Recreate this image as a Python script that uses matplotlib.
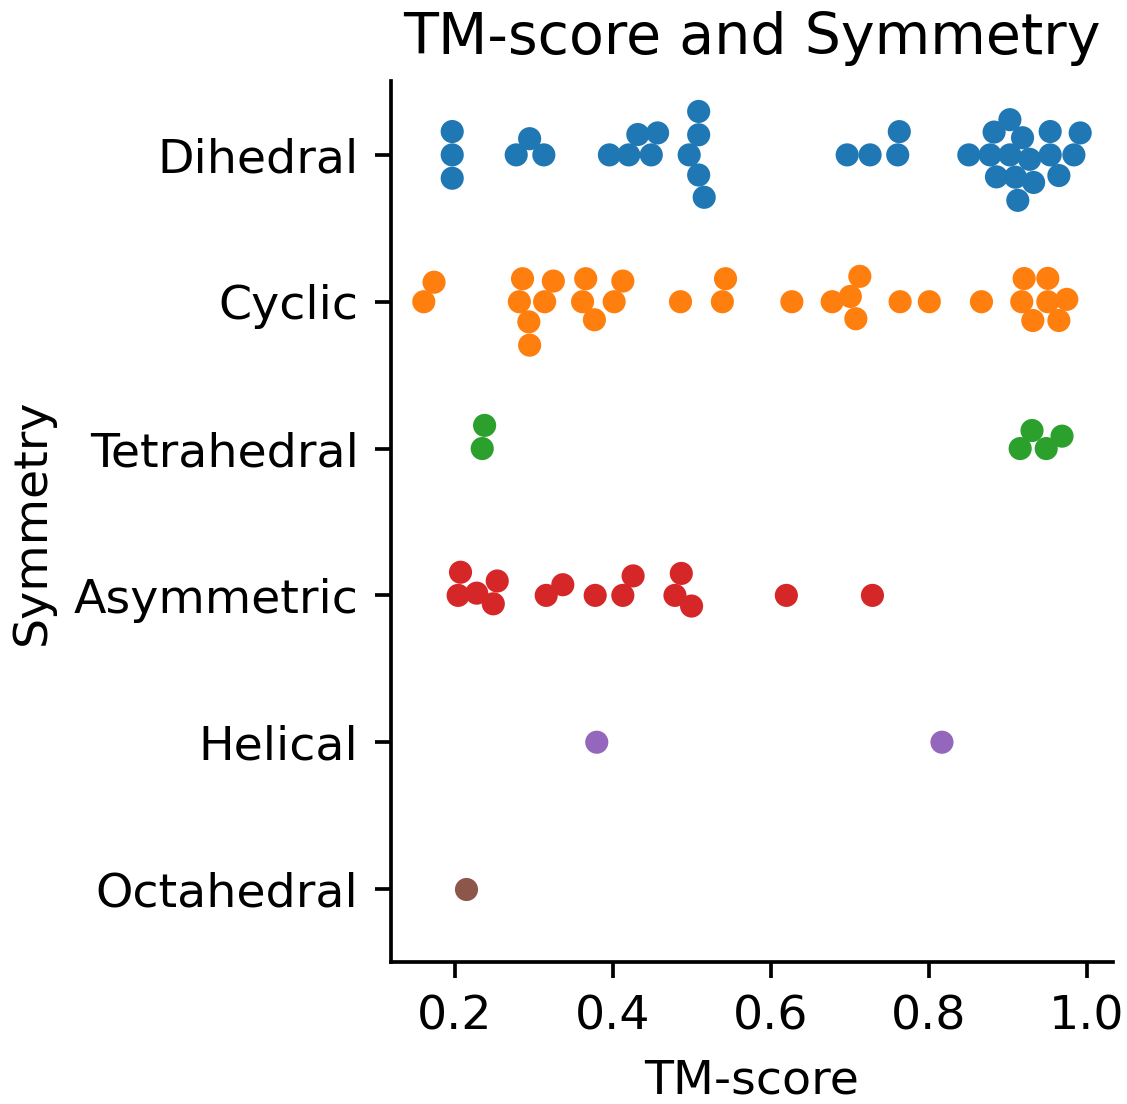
import matplotlib
matplotlib.use("Agg")
import matplotlib.pyplot as plt
import seaborn as sns
import seaborn.categorical as scat
import pandas as pd
import numpy as np

categories = ["Dihedral", "Cyclic", "Tetrahedral", "Asymmetric", "Helical", "Octahedral"]

dihedral = [0.197, 0.197, 0.197, 0.278, 0.295, 0.313, 0.396, 0.4205, 0.432, 0.449,
            0.457, 0.497, 0.509, 0.509, 0.509, 0.516, 0.697, 0.726, 0.761, 0.763,
            0.851, 0.878, 0.883, 0.886, 0.903, 0.903, 0.910, 0.913, 0.919, 0.928,
            0.933, 0.954, 0.954, 0.965, 0.984, 0.992]
cyclic = [0.161, 0.174, 0.282, 0.286, 0.294, 0.295, 0.314, 0.325, 0.362, 0.366,
          0.377, 0.402, 0.413, 0.486, 0.539, 0.543, 0.627, 0.678, 0.701, 0.713,
          0.708, 0.764, 0.801, 0.867, 0.918, 0.921, 0.932, 0.951, 0.951, 0.975, 0.965]
tetrahedral = [0.235, 0.238, 0.916, 0.931, 0.949, 0.969]
asymmetric = [0.2045, 0.2075, 0.228, 0.249, 0.254, 0.316, 0.337, 0.378, 0.413, 0.426,
              0.479, 0.487, 0.500, 0.620, 0.729]
helical = [0.380, 0.817]
octahedral = [0.215]

series = [dihedral, cyclic, tetrahedral, asymmetric, helical, octahedral]
rows = []
for cat, vals in zip(categories, series):
    for v in vals:
        rows.append({"TM-score": v, "Symmetry": cat})
df = pd.DataFrame(rows)


# swarm with stable tie-breaking, laid out as on a non-inverted category axis
def _beeswarm(self, orig_xyr):
    midline = orig_xyr[0, 0]
    swarm = np.atleast_2d(orig_xyr[0])
    for xyr_i in orig_xyr[1:]:
        neighbors = self.could_overlap(xyr_i, swarm)
        candidates = self.position_candidates(xyr_i, neighbors)
        offsets = np.round(np.abs(candidates[:, 0] - midline), 5)
        candidates = candidates[np.argsort(offsets, kind="stable")]
        new_xyr_i = self.first_non_overlapping_candidate(candidates, neighbors)
        swarm = np.vstack([swarm, new_xyr_i])
    swarm = swarm.copy()
    swarm[:, 0] = 2 * midline - swarm[:, 0]
    return swarm


scat.Beeswarm.beeswarm = _beeswarm

plt.rcParams['font.family'] = ['DejaVu Sans']
plt.rcParams['font.size'] = 10.28
plt.rcParams['axes.titlesize'] = 12.35
fig = plt.figure(figsize=(1127 / 333, 1104 / 333), dpi=333)

final_pos = [0.3469, 0.1282, 0.6407, 0.798]
# swarm layout computed on a wider axes, then the axes is narrowed
compute_pos = [0.0, 0.05, 0.6407 * 1.24, 0.798 * 1.04]
ax = fig.add_axes(compute_pos)
sns.swarmplot(data=df, x="TM-score", y="Symmetry", hue="Symmetry",
              order=categories, hue_order=categories, palette="tab10",
              legend=False, size=5, ax=ax)
sns.despine(ax=ax)
ax.set_title("TM-score and Symmetry")
ax.set_xticks([0.2, 0.4, 0.6, 0.8, 1.0])

fig.canvas.draw()
for coll in ax.collections:
    if "draw" in coll.__dict__:
        del coll.__dict__["draw"]
ax.set_position(final_pos)

fig.savefig("out.png", dpi=333)
